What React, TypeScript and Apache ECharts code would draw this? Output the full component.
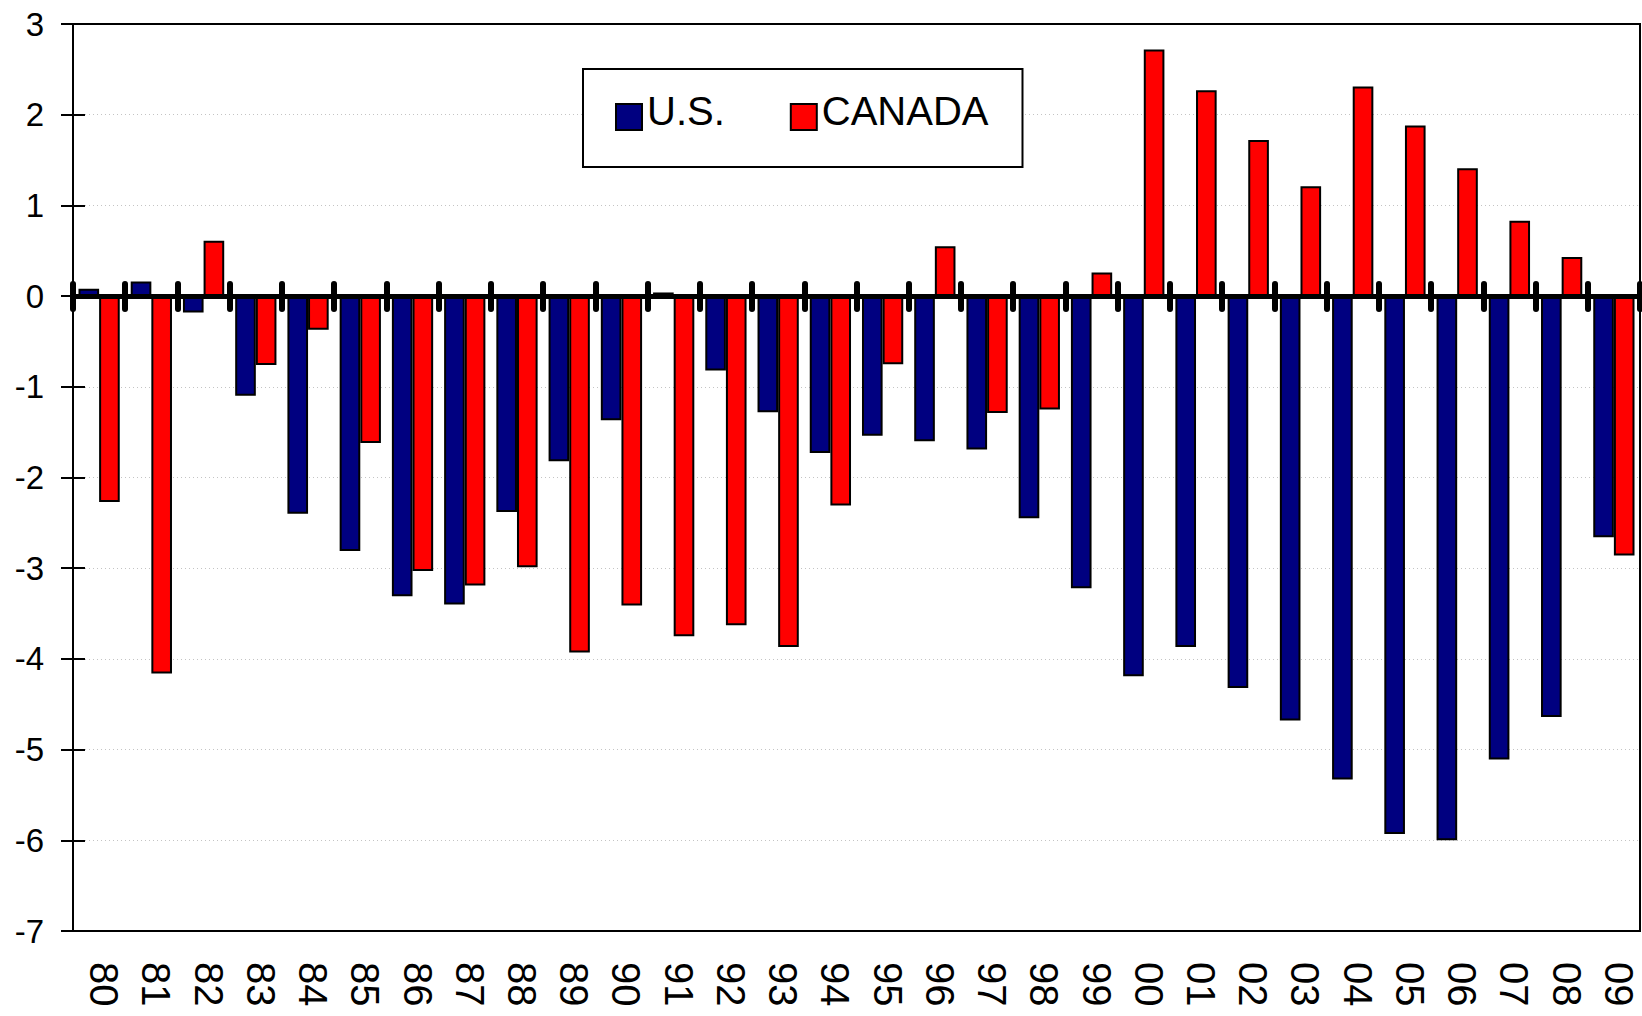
import React, { useEffect, useRef } from "react";
import * as echarts from "echarts";

const categories = ["80","81","82","83","84","85","86","87","88","89","90","91","92","93","94","95","96","97","98","99","00","01","02","03","04","05","06","07","08","09"];
const usValues = [0.08, 0.16, -0.18, -1.10, -2.40, -2.81, -3.31, -3.40, -2.38, -1.82, -1.37, 0.04, -0.82, -1.28, -1.73, -1.54, -1.60, -1.69, -2.45, -3.22, -4.19, -3.87, -4.32, -4.68, -5.33, -5.93, -6.00, -5.11, -4.64, -2.66];
const canadaValues = [-2.27, -4.16, 0.61, -0.76, -0.37, -1.62, -3.03, -3.19, -2.99, -3.93, -3.41, -3.75, -3.63, -3.87, -2.31, -0.75, 0.55, -1.29, -1.25, 0.26, 2.72, 2.27, 1.72, 1.21, 2.31, 1.88, 1.41, 0.83, 0.43, -2.86];
const seriesNames = ["U.S.", "CANADA"];
const yMin = -7;
const yMax = 3;

const FONT = "'Liberation Sans', Arial, Helvetica, sans-serif";
// legend square drawn in the lower part of its box (leading moveTo widens the bounds upward)
const LEGEND_ICON = "path://M0 0M0 12L26 12L26 38L0 38Z";

export default function App() {
  const ref = useRef<HTMLDivElement>(null);
  useEffect(() => {
    if (!ref.current) return;
    const chart = echarts.init(ref.current, undefined, { renderer: "svg" });
    const zeroAxisBase = {
      type: "category",
      data: categories,
      position: "bottom",
      boundaryGap: true,
      z: 5,
      axisLine: { show: true, onZero: true, onZeroAxisIndex: 0, lineStyle: { color: "#000", width: 5 } },
      axisLabel: { show: false },
      splitLine: { show: false },
    };
    chart.setOption({
      animation: false,
      backgroundColor: "#fff",
      textStyle: { fontFamily: FONT },
      grid: { left: 73, right: 2, top: 24, bottom: 85, show: true, borderColor: "#000", borderWidth: 2, backgroundColor: "transparent" },
      legend: {
        data: seriesNames,
        left: 583,
        top: 69,
        orient: "horizontal",
        icon: LEGEND_ICON,
        itemWidth: 26,
        itemHeight: 38,
        itemGap: 65,
        padding: [22, 34, 36, 32],
        borderColor: "#000",
        borderWidth: 2,
        backgroundColor: "#fff",
        textStyle: { fontSize: 40, color: "#000", fontFamily: FONT },
      },
      xAxis: [
        {
          type: "category",
          data: categories,
          position: "bottom",
          boundaryGap: true,
          axisLine: { show: true, onZero: false, lineStyle: { color: "#000", width: 2 } },
          axisTick: { show: false },
          axisLabel: { rotate: -90, margin: 31, fontSize: 40, color: "#000", fontFamily: FONT, interval: 0, verticalAlign: "bottom", lineHeight: 10 },
          splitLine: { show: false },
        },
        {
          ...zeroAxisBase,
          axisTick: { show: true, inside: false, length: 13, lineStyle: { color: "#000", width: 6, cap: "round" } },
        },
        {
          ...zeroAxisBase,
          axisTick: { show: true, inside: true, length: 12, lineStyle: { color: "#000", width: 6, cap: "round" } },
        },
      ],
      yAxis: [
        {
          type: "value",
          min: yMin,
          max: yMax,
          interval: 1,
          position: "left",
          axisLine: { show: true, lineStyle: { color: "#000", width: 2 } },
          axisTick: { show: true, inside: false, length: 12, lineStyle: { color: "#000", width: 2 } },
          axisLabel: { fontSize: 33, color: "#000", margin: 29, fontFamily: FONT },
          splitLine: { show: true, showMinLine: false, showMaxLine: false, lineStyle: { color: "#c4c4c4", width: 1, type: [1, 3] } },
        },
        {
          type: "value",
          min: yMin,
          max: yMax,
          interval: 1,
          position: "left",
          axisLine: { show: false },
          axisTick: { show: true, inside: true, length: 12, lineStyle: { color: "#000", width: 2 } },
          axisLabel: { show: false },
          splitLine: { show: false },
        },
      ],
      series: [
        {
          name: seriesNames[0],
          type: "bar",
          data: usValues,
          barGap: "0%",
          barCategoryGap: "21%",
          itemStyle: { color: "#000080", borderColor: "#000", borderWidth: 2 },
        },
        {
          name: seriesNames[1],
          type: "bar",
          data: canadaValues,
          barGap: "0%",
          barCategoryGap: "21%",
          itemStyle: { color: "#ff0000", borderColor: "#000", borderWidth: 2 },
        },
      ],
    });
    return () => chart.dispose();
  }, []);
  return <div ref={ref} style={{ position: "fixed", left: 0, top: 0, width: 1642, height: 1016, background: "#fff" }} />;
}
